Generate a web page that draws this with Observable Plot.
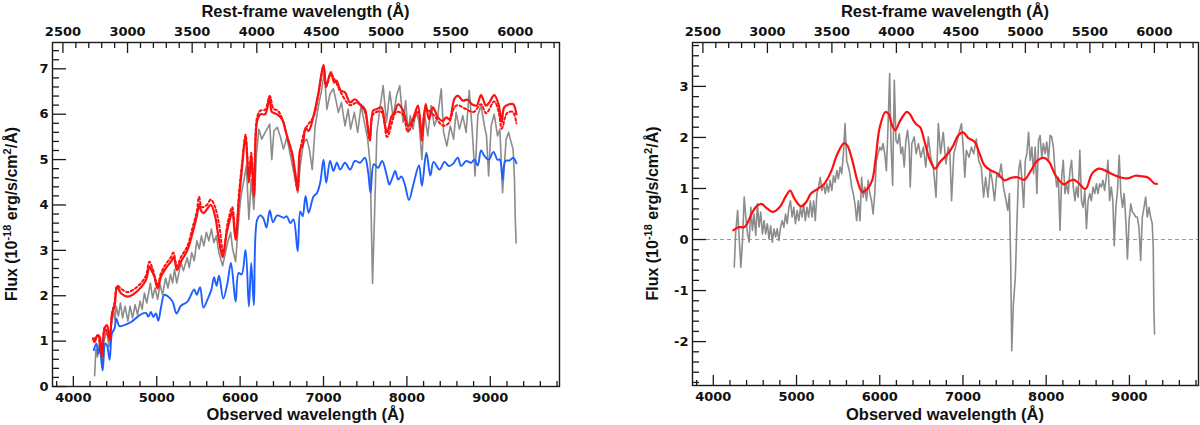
<!DOCTYPE html>
<html>
<head>
<meta charset="utf-8">
<script src="https://cdn.jsdelivr.net/npm/d3@7"></script>
<script src="https://cdn.jsdelivr.net/npm/@observablehq/plot@0.6"></script>
<style>
  body { margin: 0; background: #fff; }
  #wrap { display: flex; width: 1200px; height: 425px; }
  #wrap svg { display: block; }
</style>
</head>
<body>
<div id="wrap"></div>
<script>
"use strict";

// redshift used for the rest-frame (top) axis
const ONE_PLUS_Z = 1.55;
const OBS_DOMAIN = [3750, 9830];

const obsTicks = [4000, 5000, 6000, 7000, 8000, 9000];
const restTicks = [2500, 3000, 3500, 4000, 4500, 5000, 5500, 6000];
const leftYTicks = [0, 1, 2, 3, 4, 5, 6, 7];
const rightYTicks = [-2, -1, 0, 1, 2, 3];
const LEFT_Y_DOMAIN = [0, 7.58];
const RIGHT_Y_DOMAIN = [-2.86, 3.86];

// left panel: observed spectrum (grey), [wavelength Å, flux]
const observedSpectrum = [
  [4255,0.24],[4271,0.83],[4290,0.65],[4310,0.95],[4343,0.43],[4370,1.02],[4400,1.25],[4427,0.87],
  [4459,1.40],[4483,1.66],[4500,1.47],[4514,1.77],[4540,1.55],[4565,1.84],[4590,1.51],[4620,1.77],
  [4654,1.44],[4680,1.77],[4710,1.51],[4740,1.80],[4770,1.58],[4800,1.88],[4825,1.70],[4852,2.06],
  [4880,1.84],[4924,2.28],[4950,1.95],[4980,2.17],[5011,1.92],[5040,2.25],[5070,2.02],[5106,2.39],
  [5135,2.17],[5165,2.47],[5190,2.28],[5214,2.58],[5240,2.28],[5265,2.50],[5290,2.73],[5320,2.55],
  [5365,2.84],[5390,2.62],[5420,2.95],[5450,2.77],[5480,3.21],[5510,3.03],[5536,3.32],[5565,3.10],
  [5595,3.40],[5625,3.21],[5656,3.47],[5685,3.17],[5715,3.32],[5745,2.95],[5790,2.66],[5820,2.91],
  [5850,3.17],[5886,3.40],[5910,3.03],[5946,2.75],[5986,3.75],[6010,4.19],[6040,4.49],[6075,4.86],
  [6105,3.68],[6133,4.56],[6165,3.90],[6197,5.15],[6225,5.67],[6260,5.45],[6300,5.60],[6355,5.78],
  [6380,5.00],[6405,5.63],[6445,5.71],[6480,5.52],[6520,5.23],[6560,5.49],[6600,5.12],[6640,4.75],
  [6690,4.27],[6721,4.86],[6760,5.38],[6800,5.45],[6830,5.23],[6865,4.78],[6900,5.74],[6940,6.19],
  [6980,6.56],[7010,6.93],[7040,6.11],[7079,6.45],[7119,6.56],[7150,6.30],[7178,6.04],[7215,6.26],
  [7258,5.74],[7295,6.11],[7325,5.67],[7370,6.04],[7410,5.60],[7450,6.19],[7490,5.82],[7530,5.45],
  [7560,4.86],[7588,2.27],[7615,3.97],[7640,5.60],[7670,6.04],[7715,6.63],[7755,5.82],[7795,6.50],
  [7835,5.92],[7875,6.40],[7914,6.63],[7954,5.82],[7985,6.30],[8013,5.60],[8040,5.97],[8073,5.67],
  [8110,6.08],[8145,5.82],[8180,5.00],[8210,6.04],[8250,5.52],[8290,6.19],[8330,5.74],[8370,5.97],
  [8412,6.56],[8440,5.60],[8479,5.30],[8520,5.74],[8560,5.45],[8590,6.04],[8630,5.67],[8670,5.97],
  [8710,5.60],[8748,6.52],[8780,5.74],[8817,4.64],[8850,5.97],[8889,6.19],[8930,5.74],[8955,5.52],
  [8980,4.64],[9010,5.74],[9047,6.00],[9087,5.52],[9115,5.67],[9147,4.27],[9190,5.45],[9220,5.60],
  [9250,5.38],[9274,5.23],[9290,4.56],[9300,3.68],[9310,3.16]
];

// left panel: host galaxy model (blue)
const hostModel = [
  [4245,0.80],[4276,0.95],[4300,0.72],[4320,0.87],[4351,0.35],[4383,0.95],[4405,0.90],[4435,0.59],
  [4463,1.17],[4494,1.28],[4514,1.50],[4554,1.33],[4620,1.36],[4693,1.42],[4773,1.54],[4833,1.61],
  [4870,1.62],[4900,1.54],[4930,1.64],[4960,1.53],[4990,1.61],[5019,1.45],[5051,1.74],[5090,2.02],
  [5140,1.98],[5190,1.87],[5238,1.61],[5290,1.78],[5369,1.87],[5449,2.14],[5480,2.02],[5520,2.19],
  [5560,1.74],[5610,1.92],[5656,2.14],[5687,2.41],[5717,2.22],[5747,2.44],[5798,1.94],[5846,2.26],
  [5890,2.72],[5946,1.87],[5982,2.50],[6018,2.47],[6065,3.01],[6105,1.76],[6133,2.72],[6165,1.79],
  [6205,3.68],[6245,3.77],[6280,3.70],[6316,3.50],[6355,3.88],[6395,3.62],[6443,3.77],[6522,3.72],
  [6560,3.75],[6602,3.60],[6640,3.68],[6690,2.98],[6721,3.86],[6750,3.75],[6785,4.20],[6821,3.83],
  [6881,4.19],[6920,4.26],[6960,4.49],[7000,5.00],[7032,4.49],[7079,4.97],[7119,4.75],[7160,4.93],
  [7200,4.78],[7258,4.93],[7320,4.78],[7377,4.97],[7437,4.93],[7496,5.04],[7536,4.71],[7564,4.27],
  [7604,4.90],[7655,4.82],[7703,4.97],[7760,4.64],[7790,4.45],[7830,4.62],[7860,4.75],[7895,4.56],
  [7934,4.63],[7975,4.45],[8025,4.11],[8073,4.42],[8145,4.87],[8180,4.42],[8233,5.15],[8281,4.65],
  [8320,4.95],[8392,4.78],[8450,4.95],[8503,4.86],[8550,4.90],[8610,5.04],[8650,4.86],[8710,4.97],
  [8769,4.93],[8810,5.00],[8850,4.87],[8889,5.20],[8930,5.08],[8980,5.00],[9039,5.17],[9085,5.00],
  [9115,5.00],[9147,4.55],[9180,4.97],[9230,4.98],[9274,5.04],[9313,4.92]
];

// left panel: total model, solid red
const totalModel = [
  [4235,1.06],[4255,0.98],[4288,1.13],[4315,1.10],[4343,0.65],[4375,1.28],[4405,1.35],[4435,1.02],
  [4463,1.57],[4494,1.77],[4526,2.19],[4574,2.05],[4654,1.98],[4733,2.05],[4813,2.19],[4872,2.35],
  [4912,2.64],[4940,2.55],[4970,2.43],[5011,2.16],[5051,2.42],[5110,2.61],[5170,2.75],[5205,2.85],
  [5242,2.57],[5290,2.75],[5369,3.01],[5429,3.38],[5480,3.75],[5508,4.01],[5530,3.88],[5560,3.82],
  [5600,3.90],[5650,4.00],[5700,3.75],[5740,3.30],[5790,2.85],[5840,3.40],[5880,3.70],[5906,3.86],
  [5946,3.23],[5986,4.12],[6025,4.86],[6065,5.52],[6105,4.49],[6133,5.08],[6165,4.19],[6205,5.86],
  [6244,6.00],[6300,6.00],[6355,6.39],[6380,6.05],[6440,6.00],[6502,5.89],[6562,5.52],[6622,5.15],
  [6661,4.71],[6690,4.34],[6721,5.23],[6750,5.30],[6785,5.70],[6821,5.63],[6881,5.97],[6940,6.48],
  [7000,7.09],[7032,6.63],[7088,6.93],[7128,6.70],[7155,6.74],[7207,6.52],[7258,6.48],[7317,6.26],
  [7377,6.33],[7437,6.22],[7496,6.11],[7528,5.74],[7556,5.45],[7596,6.08],[7636,6.11],[7694,6.15],
  [7735,5.78],[7763,5.60],[7815,5.95],[7855,6.05],[7894,6.22],[7954,6.08],[8013,5.74],[8053,5.82],
  [8093,6.00],[8133,6.19],[8180,5.52],[8225,6.22],[8265,5.89],[8312,6.15],[8372,5.93],[8431,5.85],
  [8471,5.93],[8511,5.89],[8570,6.34],[8610,6.41],[8670,6.30],[8730,6.32],[8780,6.22],[8836,6.19],
  [8889,6.42],[8948,6.19],[8988,6.26],[9047,6.42],[9099,6.22],[9138,5.83],[9166,6.15],[9226,6.22],
  [9274,6.22],[9313,6.00]
];

// left panel: alternative total model, dotted red
const totalModelAlt = [
  [4250,1.03],[4290,1.12],[4343,0.70],[4375,1.30],[4435,1.05],[4463,1.62],[4494,1.85],[4526,2.22],
  [4574,2.15],[4654,2.08],[4733,2.15],[4813,2.28],[4872,2.45],[4912,2.75],[4950,2.60],[5011,2.25],
  [5051,2.50],[5110,2.70],[5170,2.85],[5200,2.95],[5242,2.65],[5290,2.85],[5369,3.10],[5429,3.50],
  [5480,3.85],[5508,4.18],[5540,3.95],[5600,4.00],[5650,4.12],[5700,3.95],[5750,3.55],[5798,2.95],
  [5850,3.60],[5906,3.95],[5946,3.30],[5986,4.25],[6025,4.95],[6065,5.55],[6105,4.60],[6133,5.15],
  [6165,4.30],[6205,5.95],[6244,6.08],[6300,6.10],[6355,6.40],[6400,6.12],[6450,6.08],[6502,5.92],
  [6562,5.52],[6622,5.12],[6690,4.32],[6721,5.20],[6785,5.68],[6881,5.95],[6940,6.45],[7000,7.05],
  [7032,6.60],[7088,6.88],[7150,6.70],[7207,6.48],[7317,6.20],[7400,6.25],[7496,6.05],[7556,5.42],
  [7596,6.00],[7694,6.05],[7763,5.50],[7874,6.05],[7950,6.00],[8013,5.62],[8133,6.05],[8180,5.42],
  [8225,6.10],[8312,6.00],[8431,5.75],[8500,5.80],[8570,6.15],[8610,6.20],[8700,6.12],[8800,6.05],
  [8889,6.22],[8950,6.02],[9047,6.28],[9100,6.05],[9138,5.68],[9200,6.02],[9270,6.05],[9313,5.80]
];

// right panel: host-subtracted spectrum (grey)
const residualSpectrum = [
  [4252,-0.54],[4268,0.11],[4292,0.57],[4308,0.11],[4331,-0.54],[4351,-0.02],[4371,0.83],[4391,0.44],
  [4411,0.11],[4431,-0.05],[4451,0.63],[4470,0.18],[4490,0.50],[4510,0.08],[4530,0.70],[4550,0.24],
  [4570,0.54],[4590,0.11],[4610,0.37],[4629,0.11],[4649,0.31],[4669,0.01],[4689,0.27],[4709,-0.05],
  [4729,0.21],[4749,0.05],[4768,0.21],[4788,-0.02],[4808,0.24],[4828,0.37],[4848,0.24],[4868,0.50],
  [4888,0.31],[4908,0.63],[4927,0.76],[4947,0.44],[4967,0.63],[4987,0.31],[5007,0.57],[5027,0.37],
  [5047,0.63],[5066,0.44],[5086,0.70],[5106,0.37],[5126,0.63],[5146,0.44],[5166,0.76],[5186,0.44],
  [5206,0.76],[5225,0.37],[5245,0.90],[5265,1.03],[5285,1.22],[5305,0.96],[5325,1.09],[5345,0.90],
  [5364,1.09],[5384,0.93],[5404,1.16],[5424,0.96],[5444,1.25],[5464,1.12],[5484,1.35],[5503,1.19],
  [5523,1.42],[5543,1.29],[5563,1.68],[5583,2.27],[5603,1.55],[5623,1.42],[5642,1.29],[5662,1.03],
  [5682,0.90],[5702,0.70],[5722,0.37],[5742,0.76],[5762,0.37],[5782,1.22],[5801,0.83],[5821,1.03],
  [5841,0.76],[5861,1.16],[5881,0.90],[5901,0.76],[5920,0.50],[5940,0.90],[5960,1.55],[5980,1.68],
  [6000,1.81],[6020,1.75],[6040,1.88],[6060,1.68],[6080,1.35],[6099,2.20],[6119,3.25],[6135,1.88],
  [6155,1.06],[6175,3.12],[6195,1.94],[6215,1.88],[6235,2.07],[6254,1.68],[6274,1.81],[6294,1.42],
  [6314,1.94],[6334,2.14],[6354,1.81],[6366,1.03],[6386,1.88],[6414,2.01],[6437,1.68],[6465,1.88],
  [6493,1.61],[6525,1.81],[6553,1.42],[6584,2.01],[6612,1.61],[6644,1.42],[6676,0.83],[6704,2.27],
  [6731,1.68],[6763,2.10],[6795,1.48],[6823,1.81],[6843,1.68],[6863,0.76],[6890,1.68],[6922,1.88],
  [6954,2.10],[6982,2.27],[7002,1.81],[7022,1.22],[7041,1.75],[7073,1.61],[7101,1.81],[7129,1.68],
  [7161,1.97],[7188,1.55],[7220,1.42],[7248,0.83],[7272,1.22],[7300,0.83],[7327,1.35],[7351,1.16],
  [7379,0.76],[7407,1.29],[7431,1.22],[7459,1.48],[7486,1.03],[7518,0.76],[7538,0.57],[7558,0.90],
  [7574,-0.54],[7586,-2.18],[7606,-1.26],[7629,-0.74],[7649,0.37],[7669,1.35],[7689,1.55],[7709,1.16],
  [7729,0.63],[7749,1.55],[7768,1.68],[7788,2.10],[7808,1.55],[7828,1.81],[7848,1.29],[7868,1.81],
  [7888,0.90],[7908,1.94],[7927,2.04],[7947,1.61],[7967,1.88],[7987,1.68],[8007,1.91],[8027,1.55],
  [8047,2.04],[8066,2.01],[8086,1.81],[8106,1.35],[8126,1.03],[8146,1.22],[8166,0.18],[8186,1.22],
  [8205,1.55],[8225,0.90],[8245,1.09],[8265,0.90],[8285,1.35],[8305,1.55],[8325,1.03],[8345,0.76],
  [8364,1.03],[8384,0.83],[8404,1.75],[8424,0.76],[8444,0.63],[8464,0.96],[8484,0.21],[8503,0.76],
  [8523,0.90],[8543,0.76],[8563,1.03],[8583,0.90],[8603,1.09],[8622,0.90],[8642,1.09],[8662,1.03],
  [8682,1.16],[8702,0.96],[8722,1.22],[8742,1.55],[8762,0.76],[8782,1.03],[8801,0.76],[8817,-0.12],
  [8837,0.63],[8857,0.96],[8877,1.65],[8897,0.90],[8917,0.63],[8937,0.90],[8957,0.37],[8976,-0.38],
  [8996,0.37],[9016,0.70],[9036,0.54],[9056,0.50],[9076,0.44],[9095,0.44],[9115,0.24],[9135,-0.41],
  [9155,0.44],[9175,0.63],[9195,0.83],[9215,0.44],[9235,0.63],[9255,0.44],[9274,0.31],[9286,-0.15],
  [9294,-1.39],[9302,-1.85]
];

// right panel: smooth SN model (red)
const snModel = [
  [4240,0.18],[4300,0.24],[4379,0.25],[4459,0.50],[4518,0.65],[4578,0.70],[4637,0.62],[4717,0.54],
  [4796,0.63],[4876,0.86],[4923,0.96],[4975,0.80],[5055,0.65],[5114,0.73],[5174,0.90],[5253,0.99],
  [5333,1.09],[5412,1.32],[5492,1.68],[5571,1.89],[5611,1.84],[5670,1.55],[5730,1.16],[5790,0.93],
  [5849,0.99],[5909,1.16],[5948,1.55],[6000,2.20],[6068,2.50],[6107,2.46],[6147,2.24],[6187,2.14],
  [6246,2.33],[6326,2.50],[6366,2.45],[6405,2.33],[6445,2.25],[6485,2.20],[6545,1.88],[6604,1.55],
  [6664,1.39],[6724,1.52],[6803,1.65],[6883,1.84],[6942,2.04],[7002,2.10],[7061,1.99],[7141,1.91],
  [7200,1.68],[7260,1.45],[7339,1.35],[7419,1.29],[7498,1.16],[7578,1.21],[7657,1.22],[7737,1.17],
  [7816,1.35],[7896,1.55],[7975,1.60],[8035,1.52],[8114,1.25],[8213,1.08],[8273,1.14],[8333,1.17],
  [8392,1.10],[8472,0.99],[8551,1.29],[8631,1.39],[8710,1.35],[8809,1.27],[8909,1.21],[8988,1.20],
  [9068,1.25],[9147,1.24],[9227,1.21],[9298,1.10],[9330,1.09]
];

const GREY = "#8c8c8c";
const RED = "#ff1010";
const BLUE = "#1f5fff";
const INK = "#1a1a1a";
const TICK_FONT = "DejaVu Sans";
const TITLE_FONT = "Liberation Sans, Arial, sans-serif";

const wl = (d) => d[0];
const fx = (d) => d[1];

function frameAxes(yTicks, yDomain) {
  const obsMinor = d3.range(3800, 9801, 200).filter((v) => v % 1000 !== 0);
  const restMinor = d3.range(2500, 6301, 100).filter((v) => v % 500 !== 0);
  const yMinor = d3.range(Math.ceil(yDomain[0] * 5), Math.floor(yDomain[1] * 5) + 1)
    .map((v) => v / 5).filter((v) => Math.abs(v - Math.round(v)) > 1e-6);
  const line = { stroke: INK, strokeWidth: 1.3, fill: "none", label: null };
  const toObs = (r) => r * ONE_PLUS_Z;
  return [
    // bottom (observed)
    Plot.axisX({ anchor: "bottom", ticks: obsTicks, tickSize: 10, dy: -10, ...line }),
    Plot.axisX({ anchor: "bottom", ticks: obsMinor, tickSize: 5, dy: -5, ...line }),
    Plot.axisX({ anchor: "bottom", ticks: obsTicks, tickSize: 0, tickPadding: 6, label: null,
      tickFormat: (d) => String(d) }),
    // top (rest frame)
    Plot.axisX({ anchor: "top", ticks: restTicks.map(toObs), tickSize: 10, dy: 10, ...line }),
    Plot.axisX({ anchor: "top", ticks: restMinor.map(toObs), tickSize: 5, dy: 5, ...line }),
    Plot.axisX({ anchor: "top", ticks: restTicks.map(toObs), tickSize: 0, tickPadding: 7, label: null,
      tickFormat: (d) => String(Math.round(d / ONE_PLUS_Z)) }),
    // left
    Plot.axisY({ anchor: "left", ticks: yTicks, tickSize: 14, dx: 14, ...line }),
    Plot.axisY({ anchor: "left", ticks: yMinor, tickSize: 7, dx: 7, ...line }),
    Plot.axisY({ anchor: "left", ticks: yTicks, tickSize: 0, tickPadding: 4, label: null,
      tickFormat: (d) => String(d) }),
    Plot.frame({ stroke: INK, strokeWidth: 1.4 }),
  ];
}

function addTitles(svg, m, titleX) {
  const s = d3.select(svg);
  const cx = (m.left + 600 - m.right) / 2;
  const cy = (m.top + 425 - m.bottom) / 2;
  const t = (sel) => sel.attr("font-family", TITLE_FONT).attr("font-weight", "bold")
    .attr("fill", "#111").attr("text-anchor", "middle");
  s.append("text").call(t).attr("font-size", 16.5)
    .attr("x", cx).attr("y", 420).text("Observed wavelength (Å)");
  s.append("text").call(t).attr("font-size", 16.5)
    .attr("x", cx).attr("y", 17).text("Rest-frame wavelength (Å)");
  const y = s.append("text").call(t).attr("font-size", 16)
    .attr("transform", `translate(${titleX},${cy}) rotate(-90)`);
  y.append("tspan").text("Flux (10");
  y.append("tspan").attr("dy", -6).attr("font-size", 11).text("-18");
  y.append("tspan").attr("dy", 6).text(" erg/s/cm");
  y.append("tspan").attr("dy", -6).attr("font-size", 11).text("2");
  y.append("tspan").attr("dy", 6).text("/Å)");
}

function makePanel(m, yDomain, yTicks, marks, titleX) {
  const svg = Plot.plot({
    width: 600, height: 425,
    marginLeft: m.left, marginRight: m.right, marginTop: m.top, marginBottom: m.bottom,
    style: { fontFamily: TICK_FONT, fontSize: "13px", fontWeight: "bold", color: "#111",
      background: "#fff", overflow: "visible" },
    x: { domain: OBS_DOMAIN, axis: null },
    y: { domain: yDomain, axis: null },
    marks: [...marks, ...frameAxes(yTicks, yDomain)],
  });
  addTitles(svg, m, titleX);
  return svg;
}

const leftMargins = { left: 52, right: 41, top: 42, bottom: 39 };
const rightMargins = { left: 92, right: 2, top: 42, bottom: 40 };

// model curves are drawn smooth, the measured spectra straight
const left = makePanel(leftMargins, LEFT_Y_DOMAIN, leftYTicks, [
  Plot.line(observedSpectrum, { x: wl, y: fx, stroke: GREY, strokeWidth: 1.6 }),
  Plot.line(hostModel, { x: wl, y: fx, stroke: BLUE, strokeWidth: 1.9, curve: "catmull-rom" }),
  Plot.line(totalModelAlt, { x: wl, y: fx, stroke: RED, strokeWidth: 2, strokeDasharray: "2.5,2.5",
    curve: "catmull-rom" }),
  Plot.line(totalModel, { x: wl, y: fx, stroke: RED, strokeWidth: 2.2, curve: "catmull-rom" }),
], 17);

const right = makePanel(rightMargins, RIGHT_Y_DOMAIN, rightYTicks, [
  Plot.ruleY([0], { stroke: "#9a9a9a", strokeWidth: 1, strokeDasharray: "4,3" }),
  Plot.line(residualSpectrum, { x: wl, y: fx, stroke: GREY, strokeWidth: 1.6 }),
  Plot.line(snModel, { x: wl, y: fx, stroke: RED, strokeWidth: 2.2, curve: "catmull-rom" }),
], 58);

document.getElementById("wrap").append(left, right);
</script>
</body>
</html>
